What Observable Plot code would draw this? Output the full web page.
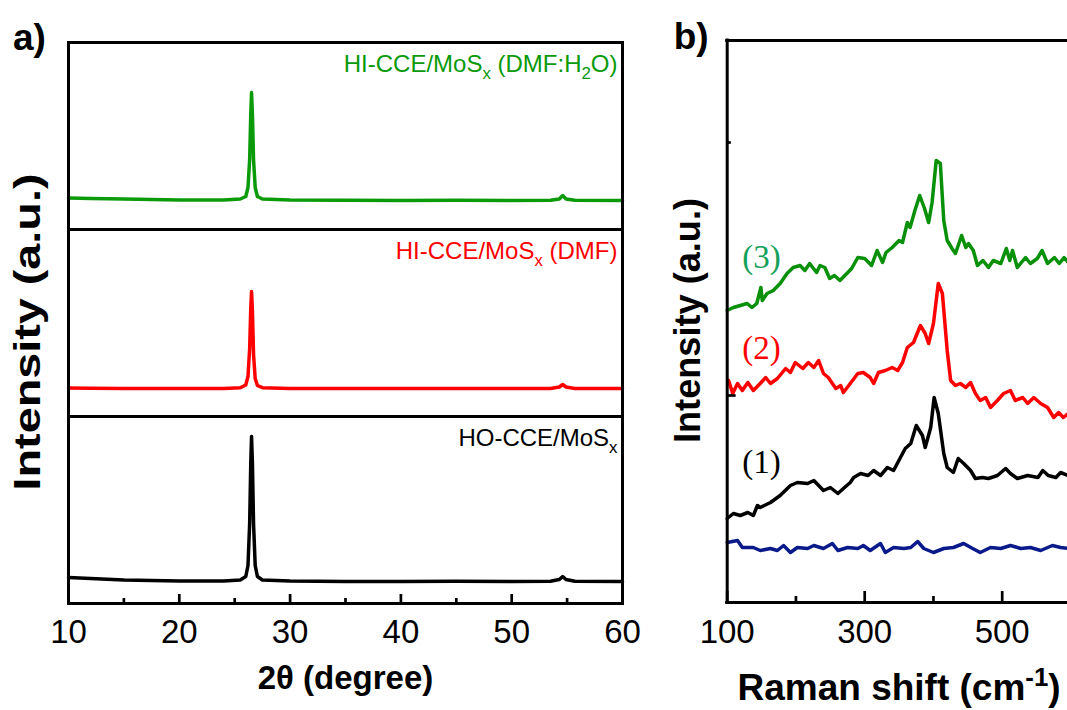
<!DOCTYPE html>
<html><head><meta charset="utf-8">
<script src="https://cdn.jsdelivr.net/npm/d3@7"></script>
<script src="https://cdn.jsdelivr.net/npm/@observablehq/plot@0.6"></script>
<style>
body{margin:0;background:#fff;overflow:hidden}
#wrap{position:relative;width:1067px;height:710px;overflow:hidden;background:#fff}
#wrap svg{position:absolute;top:0;overflow:hidden}
</style></head><body><div id="wrap"></div>
<script>
// ---------- Panel a) XRD data ----------
const xrdTheta   = [10,12,15,20,24,25.5,26.0,26.2,26.35,26.45,26.52,26.6,26.7,26.85,27.05,27.5,30,35,40,45,50,53.5,54.3,54.6,54.9,55.7,60];
const xrdHIWater = [31.5,31,30.5,29.5,29.5,30.5,33,42,70,115,137,115,70,42,33,30.5,29.5,29.3,29,29.3,29,29.2,30.5,34,30.5,29.2,29];
const xrdHIDMF   = [28.5,28.3,28,28,28,28.8,31.5,40,68,108,125,105,62,38,31,28.8,28,28,28,28,28,28,29.5,32,29.5,28,28];
const xrdHO      = [26,25,23.5,22.5,22.5,23.5,27,38,80,140,167,140,80,38,27,23.5,22.5,22,22,22.3,22,22.2,24,27,24,22.2,22];
const xrdSamples = ["HI-CCE/MoS_x (DMF:H_2O)", "HI-CCE/MoS_x (DMF)", "HO-CCE/MoS_x"];
const xrdColors  = ["#0a9a0a", "#ff0000", "#000000"];
const xrdTicksMajor = [10,20,30,40,50,60];
const xrdTicksMinor = [15,25,35,45,55];

// ---------- Panel b) Raman data ----------
const ramanShift0 = [100,115,122,138,148,163,173,182,192,202,217,226,240,253,261,275,290,298,308,323,330,342,357,367,377,386,400,415,429,444,457,468,483,498,512,527,541,556,573,585,596];
const ramanInt0   = [60,62,55,55,52,54,52,57,50,55,54,57,54,59,52,55,54,57,52,59,50,55,54,55,61,54,50,54,55,59,54,50,55,54,57,54,55,52,57,55,54];
const ramanShift1 = [100,109,119,130,138,144,148,163,177,192,202,217,226,240,250,261,269,279,284,294,305,313,323,333,342,352,359,367,375,384,388,396,401,407,415,420,429,436,444,454,461,471,480,493,505,512,522,537,552,559,567,578,585,596];
const ramanInt1   = [84,89,87,90,87,97,95,100,107,117,120,119,122,112,115,109,114,120,125,129,127,132,127,135,132,145,154,159,177,167,155,175,205,189,149,135,130,144,139,132,124,125,124,127,134,129,124,127,125,132,127,125,130,127];
const ramanShift2 = [102,108,115,122,130,138,148,156,163,173,185,192,199,210,218,226,233,240,247,258,265,269,279,290,298,308,313,320,330,340,348,355,362,371,381,388,393,400,407,413,420,425,432,439,447,454,461,468,476,483,493,502,512,519,530,537,546,556,566,575,582,589,596];
const ramanInt2   = [222,209,219,212,220,212,219,225,219,224,234,230,240,234,240,235,242,229,225,214,217,210,219,229,230,225,219,230,232,235,232,240,255,260,277,269,259,279,319,309,252,222,217,219,215,220,209,202,205,195,202,209,212,202,205,199,205,199,195,185,190,185,189];
const ramanShift3 = [100,109,119,129,136,143,149,151,158,167,177,187,196,206,213,220,230,235,242,249,256,264,274,281,290,300,310,318,326,331,340,350,355,362,366,373,380,387,393,398,404,410,415,420,427,432,441,447,451,458,464,472,480,487,498,506,511,515,522,534,541,551,558,566,576,583,590,596];
const ramanInt3   = [292,295,297,299,295,299,315,302,309,312,319,329,335,337,332,339,330,337,335,324,327,322,329,334,345,344,337,352,340,350,355,362,360,380,375,392,407,394,380,400,442,439,382,362,354,349,367,355,359,352,337,342,335,342,339,354,342,352,335,345,339,344,352,339,345,339,345,340];
const ramanSeries = ["blank", "(1)", "(2)", "(3)"];
const ramanColors = ["#0a1a8a", "#000000", "#ff0000", "#089008"];
const ramanTicksMajor = [100,300,500];
const ramanTicksMinor = [200,400];
const ramanYTicksMajor = [207];
const ramanYTicksMinor = [460];

const FONT = "'Liberation Sans', Arial, sans-serif";
const SERIF = "'Liberation Serif', 'Times New Roman', serif";

// ---------- build tables ----------
const xrdRows = [];
[xrdHIWater, xrdHIDMF, xrdHO].forEach((arr, i) =>
  arr.forEach((v, j) => xrdRows.push({theta: xrdTheta[j], I: v, s: xrdSamples[i]})));
const xrdLabelRows = xrdSamples.map(s => ({s}));

const ramanRows = [];
[[ramanShift0, ramanInt0], [ramanShift1, ramanInt1], [ramanShift2, ramanInt2], [ramanShift3, ramanInt3]]
  .forEach(([xs, ys], i) => xs.forEach((x, j) => ramanRows.push({v: x, I: ys[j], s: ramanSeries[i]})));

const bottomPanel = () => xrdSamples[2];
const noLabel = () => "";

const plotA = Plot.plot({
  width: 660, height: 710,
  marginLeft: 68, marginRight: 38, marginTop: 42, marginBottom: 107,
  style: {fontFamily: FONT, fontSize: "33px", color: "#000", background: "transparent"},
  x: {domain: [10, 60]},
  y: {domain: [0, 187], axis: null},
  fy: {domain: xrdSamples, axis: null, padding: 0},
  color: {domain: xrdSamples, range: xrdColors},
  marks: [
    Plot.line(xrdRows, {x: "theta", y: "I", fy: "s", z: "s", stroke: "s", strokeWidth: 3.5, strokeLinejoin: "round"}),
    Plot.frame({stroke: "#000", strokeWidth: 3}),
    Plot.axisX(xrdTicksMajor, {tickSize: -9, tickPadding: 25, strokeWidth: 2.7, fontSize: 33, label: null}),
    Plot.axisX(xrdTicksMinor, {tickSize: -5, tickFormat: noLabel, strokeWidth: 2.7, label: null}),
    Plot.text(xrdLabelRows, {x: () => 60, y: () => 165, fy: "s", text: "s", fill: "s", textAnchor: "end", dx: -5, fontSize: 24}),
    Plot.text(["2θ (degree)"], {text: d => d, frameAnchor: "bottom", fy: bottomPanel, lineAnchor: "middle", textAnchor: "middle", dy: 75, fontSize: 33, fontWeight: "bold"}),
    Plot.text(["Intensity (a.u.)"], {text: d => d, frameAnchor: "left", fy: () => xrdSamples[1], rotate: -90, lineAnchor: "middle", textAnchor: "middle", dx: -40, dy: 9, fontSize: 37, fontWeight: "bold"}),
    Plot.text(["a)"], {text: d => d, frameAnchor: "top-left", fy: () => xrdSamples[0], lineAnchor: "middle", textAnchor: "middle", dx: -39, dy: -4, fontSize: 37, fontWeight: "bold"})
  ]
});

const plotB = Plot.plot({
  width: 407, height: 710,
  marginLeft: 67, marginRight: 0, marginTop: 40, marginBottom: 108,
  style: {fontFamily: FONT, fontSize: "33px", color: "#000", background: "transparent"},
  x: {domain: [100, 600], range: [66.7, 410.45]},
  y: {domain: [0, 562], range: [602, 40], axis: null},
  color: {domain: ramanSeries, range: ramanColors},
  marks: [
    Plot.line(ramanRows, {x: "v", y: "I", z: "s", stroke: "s", strokeWidth: 3.5, strokeLinejoin: "round"}),
    Plot.ruleX([100], {y1: 0, y2: 562, stroke: "#000", strokeWidth: 3, strokeLinecap: "square"}),
    Plot.ruleY([0, 562], {x1: 100, x2: 600, stroke: "#000", strokeWidth: 3, strokeLinecap: "square"}),
    Plot.axisX(ramanTicksMajor, {tickSize: -11, tickPadding: 28, strokeWidth: 2.7, fontSize: 33, label: null}),
    Plot.axisX(ramanTicksMinor, {tickSize: -6, tickFormat: noLabel, strokeWidth: 2.7, label: null}),
    Plot.ruleY(ramanYTicksMajor, {y: d => d, x1: 100, x2: 113, stroke: "#000", strokeWidth: 2.7}),
    Plot.ruleY(ramanYTicksMinor, {y: d => d, x1: 100, x2: 106, stroke: "#000", strokeWidth: 2.7}),
    Plot.text([ramanSeries[1]], {text: d => d, x: () => 150, y: () => 140, fill: "#000000", fontSize: 33, fontFamily: SERIF}),
    Plot.text([ramanSeries[2]], {text: d => d, x: () => 150, y: () => 254, fill: "#ff0000", fontSize: 33, fontFamily: SERIF}),
    Plot.text([ramanSeries[3]], {text: d => d, x: () => 150, y: () => 345, fill: "#14a05a", fontSize: 33, fontFamily: SERIF}),
    Plot.text(["Raman shift (cm^{-1})"], {text: d => d, x: () => 350, y: () => 0, dy: 86, lineAnchor: "middle", textAnchor: "middle", fontSize: 37, fontWeight: "bold"}),
    Plot.text(["Intensity (a.u.)"], {text: d => d, x: () => 100, y: () => 282, dx: -39, rotate: -90, lineAnchor: "middle", textAnchor: "middle", fontSize: 37, fontWeight: "bold"}),
    Plot.text(["b)"], {text: d => d, x: () => 100, y: () => 562, dx: -36, dy: -3, lineAnchor: "middle", textAnchor: "middle", fontSize: 37, fontWeight: "bold"})
  ]
});

// ---------- rich text (sub/superscripts) ----------
const NS = "http://www.w3.org/2000/svg";
function richText(svg) {
  svg.querySelectorAll("text").forEach(t => {
    const s = t.textContent;
    if (!/[_^]/.test(s)) return;
    while (t.firstChild) t.removeChild(t.firstChild);
    const re = /([_^])(\{[^}]*\}|.)/g;
    let last = 0, m, restore = null;
    const add = (txt, attrs) => {
      const ts = document.createElementNS(NS, "tspan");
      ts.textContent = txt;
      for (const k in attrs) ts.setAttribute(k, attrs[k]);
      t.appendChild(ts);
    };
    while ((m = re.exec(s))) {
      if (m.index > last) { add(s.slice(last, m.index), restore ? {dy: restore} : {}); restore = null; }
      let body = m[2]; if (body[0] === "{") body = body.slice(1, -1);
      if (m[1] === "_") { add(body, {"font-size": "70%", dy: "0.43em"}); restore = "-0.3em"; }
      else { add(body, {"font-size": "70%", dy: "-0.55em"}); restore = "0.385em"; }
      last = re.lastIndex;
    }
    if (last < s.length) add(s.slice(last), restore ? {dy: restore} : {});
  });
}
function stretch(svg, content, len) {
  svg.querySelectorAll("text").forEach(t => {
    if (t.textContent === content) {
      t.setAttribute("textLength", len);
      t.setAttribute("lengthAdjust", "spacingAndGlyphs");
    }
  });
}
richText(plotA); richText(plotB);
stretch(plotA, "Intensity (a.u.)", 317);
stretch(plotB, "Intensity (a.u.)", 245);

const wrap = document.getElementById("wrap");
plotA.style.left = "0px";
plotB.style.left = "660px";
wrap.appendChild(plotA);
wrap.appendChild(plotB);
</script></body></html>
